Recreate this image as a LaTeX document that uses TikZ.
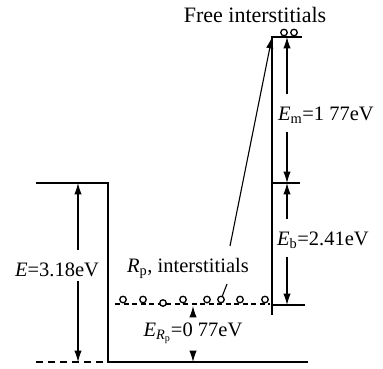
\documentclass[tikz,border=0pt]{standalone}
\usepackage{fontspec}
\setmainfont{Liberation Serif}
\usetikzlibrary{arrows.meta, positioning}

\begin{document}
\begin{tikzpicture}[x=1pt, y=-1pt,
    font=\fontsize{20.5}{24}\selectfont,
    level/.style={line width=1.4pt},
    ar/.style={-{Latex[length=4mm, width=2.6mm]}, line width=1.1pt},
    lbl/.style={inner sep=1pt},
    atom/.style={circle, draw, line width=1.3pt, fill=white, inner sep=0pt, minimum size=6.5pt}
  ]
    \useasboundingbox (0,0) rectangle (383,368);
    % energy levels
    \coordinate (tl) at (36,183);
    \coordinate (tr) at (108,183);
    \coordinate (bl) at (108,362);
    \coordinate (br) at (308,362);
    \coordinate (dl) at (36,362);
    \coordinate (fv) at (272,37);
    \coordinate (fe) at (302,37);
    \coordinate (fb) at (272,315);
    \coordinate (mv) at (272,183);
    \coordinate (me) at (300,183);
    \coordinate (rv) at (272,305);
    \coordinate (re) at (305,305);
    \coordinate (rl) at (115,304);
    \coordinate (rr) at (270,304);
    \draw[level] (tl) -- (tr) -- (bl) -- (br);
    \draw[level, dash pattern=on 7pt off 5pt] (dl) -- (bl);
    \draw[level, dash pattern=on 5pt off 3.5pt] (rl) -- (rr);
    % interstitials
    \node[atom] (f1) at (284,32.5) {};
    \node[atom] (f2) at (294,32.5) {};
    \draw[level] (fb) -- (fv) -- (fe);
    \draw[level] (mv) -- (me);
    \draw[level] (rv) -- (re);
    \foreach \x/\y [count=\i] in {123/299.5, 143/299.5, 163/303, 183/299.5, 207/299.5, 221/299.5, 240/299.5, 265/299.5}
      \node[atom] (a\i) at (\x,\y) {};
    % labels
    \node[lbl, font=\fontsize{22}{26}\selectfont] (lfree) at (255,15) {Free interstitials};
    \node[lbl] (lE) at (57,270) {\textit{E}=3.18eV};
    \node[lbl, anchor=west] (lEm) at (277,115) {\textit{E}\textsubscript{m}=1 77eV};
    \node[lbl, anchor=west] (lEb) at (276,240) {\textit{E}\textsubscript{b}=2.41eV};
    \node[lbl] (lRpi) at (188,268) {\textit{R}\textsubscript{p}, interstitials};
    \node[lbl] (lRp) at (193,333) {\textit{E}\textsubscript{\textit{R}\textsubscript{p}}=0 77eV};
    % arrows
    \coordinate (ea) at (78,183);
    \coordinate (eb) at (78,362);
    \draw[ar] ([yshift=12pt]lE.north -| ea) -- (ea);
    \draw[ar] ([yshift=-3pt]lE.south -| ea) -- (eb);
    \coordinate (emt) at (287,37);
    \coordinate (emb) at (287,183);
    \coordinate (ebb) at (287,305);
    \draw[ar] ([yshift=11pt]lEm.north -| emt) -- (emt);
    \draw[ar] ([yshift=-7pt]lEm.south -| emt) -- (emb);
    \draw[ar] ([yshift=11pt]lEb.north -| emb) -- (emb);
    \draw[ar] ([yshift=-7pt]lEb.south -| emb) -- (ebb);
    \coordinate (rpa) at (193,306);
    \coordinate (rpb) at (193,362);
    \draw[ar] ([yshift=10pt]lRp.north) -- (rpa);
    \draw[ar] ([yshift=-8pt]lRp.south) -- (rpb);
    \coordinate (ls) at (230,246);
    \coordinate (lt) at (227,284);
    \draw[ar] (ls) -- (fv);
    \draw[line width=1.1pt] (lt) -- (a6);
\end{tikzpicture}
\end{document}
